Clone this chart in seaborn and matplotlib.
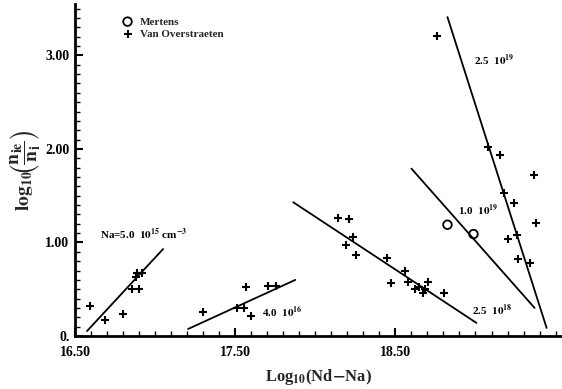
import matplotlib
matplotlib.use("Agg")
import matplotlib.pyplot as plt
import seaborn as sns
import pandas as pd
import numpy as np
from matplotlib.ticker import MultipleLocator, FixedLocator

# ---- data ----
vo_x = [16.594, 16.6875, 16.80, 16.856, 16.90, 16.888, 16.919, 16.881,
        17.30, 17.51, 17.556, 17.569, 17.60, 17.706, 17.756,
        18.144, 18.2125, 18.2375, 18.194, 18.256, 18.45, 18.5625, 18.475,
        18.581, 18.625, 18.65, 18.675, 18.6875, 18.706, 18.806,
        18.7625, 19.075, 19.15, 19.3625, 19.175, 19.2375, 19.375, 19.256,
        19.206, 19.2625, 19.3375]
vo_y = [0.32, 0.17, 0.235, 0.50, 0.50, 0.67, 0.67, 0.63,
        0.26, 0.30, 0.30, 0.52, 0.21, 0.53, 0.53,
        1.26, 1.25, 1.06, 0.97, 0.87, 0.83, 0.70, 0.57,
        0.58, 0.50, 0.52, 0.46, 0.50, 0.58, 0.46,
        3.21, 2.02, 1.94, 1.72, 1.53, 1.42, 1.21, 1.08,
        1.04, 0.82, 0.78]
mertens_x = [18.825, 18.9875]
mertens_y = [1.19, 1.09]

line_names = ["5.0e15", "4.0e16", "2.5e18", "1.0e19", "2.5e19"]
line_x0 = [16.575, 17.206, 17.8625, 18.60, 18.825]
line_y0 = [0.053, 0.075, 1.43, 1.79, 3.41]
line_x1 = [17.05, 17.875, 19.006, 19.369, 19.444]
line_y1 = [0.93, 0.60, 0.14, 0.30, 0.086]

label_texts = [r"Na=5.0  $\mathbf{10^{15}}$ cm$^{\mathbf{-3}}$", r"4.0  $\mathbf{10^{16}}$",
               r"2.5  $\mathbf{10^{18}}$", r"1.0  $\mathbf{10^{19}}$", r"2.5  $\mathbf{10^{19}}$"]
label_x = [16.656, 17.669, 18.98, 18.89, 18.99]
label_y = [1.09, 0.26, 0.27, 1.34, 2.95]

xtick_vals = [16.5, 17.5, 18.5]
xtick_labels = ["16.50", "17.50", "18.50"]
ytick_vals = [0, 1, 2, 3]
ytick_labels = ["0.", "1.00", "2.00", "3.00"]

# ---- style ----
sns.set_theme(style="white")
plt.rcParams["font.family"] = ["Liberation Serif", "DejaVu Serif"]
plt.rcParams["font.weight"] = "bold"
plt.rcParams["mathtext.fontset"] = "stix"

fig = plt.figure(figsize=(5.62, 3.89), dpi=100)
ax = fig.add_axes([75/562, 1-336/389, 487/562, 332/389])

lines_df = pd.DataFrame({
    "x": line_x0 + line_x1,
    "y": line_y0 + line_y1,
    "g": line_names + line_names,
})
sns.lineplot(data=lines_df, x="x", y="y", units="g", estimator=None,
             color="black", linewidth=1.3, ax=ax, sort=False, legend=False)

sns.scatterplot(x=mertens_x, y=mertens_y, marker="o", s=38, facecolor="none",
                edgecolor="black", linewidth=1.3, ax=ax, label="Mertens", zorder=3)
sns.scatterplot(x=vo_x, y=vo_y, marker="+", s=32, color="black",
                linewidth=1.5, ax=ax, label="Van Overstraeten", zorder=3)

for t, x, y in zip(label_texts, label_x, label_y):
    ax.text(x, y, t, fontsize=8, va="center", ha="left", color="black",
            fontweight="bold")

ax.set_xlim(16.5, 19.54)
ax.set_ylim(0, 3.55)
ax.xaxis.set_major_locator(FixedLocator(xtick_vals))
ax.set_xticklabels(xtick_labels)
ax.xaxis.set_minor_locator(MultipleLocator(0.1))
ax.yaxis.set_major_locator(FixedLocator(ytick_vals))
ax.set_yticklabels(ytick_labels)
ax.yaxis.set_minor_locator(MultipleLocator(0.1))
ax.tick_params(which="both", direction="in", color="black", labelsize=10,
               labelcolor="black", bottom=True, left=True, top=False, right=False)
ax.tick_params(which="major", length=6, width=1.5)
ax.tick_params(which="minor", length=3.5, width=1.0)
ax.tick_params(axis="x", pad=7)
ax.tick_params(axis="y", pad=4)

for s in ["top", "right"]:
    ax.spines[s].set_visible(False)
for s in ["left", "bottom"]:
    ax.spines[s].set_color("black")
    ax.spines[s].set_linewidth(2)

ax.set_xlabel(r"Log$_{\mathbf{10}}$(Nd$-$Na)", fontsize=12, labelpad=6,
              fontweight="bold")
ax.set_ylabel(r"$\mathbf{log}_{\mathbf{10}}\!\left(\dfrac{\mathbf{n}_{\mathbf{ie}}}{\mathbf{n}_{\mathbf{i}}}\right)$",
              fontsize=14, labelpad=2)

leg = ax.legend(loc="upper left", bbox_to_anchor=(0.085, 0.975), frameon=False,
                fontsize=8, handletextpad=0.5, borderaxespad=0, labelspacing=0.2,
                handlelength=1.2)
for t in leg.get_texts():
    t.set_fontweight("bold")

fig.savefig("out.png", dpi=100)
